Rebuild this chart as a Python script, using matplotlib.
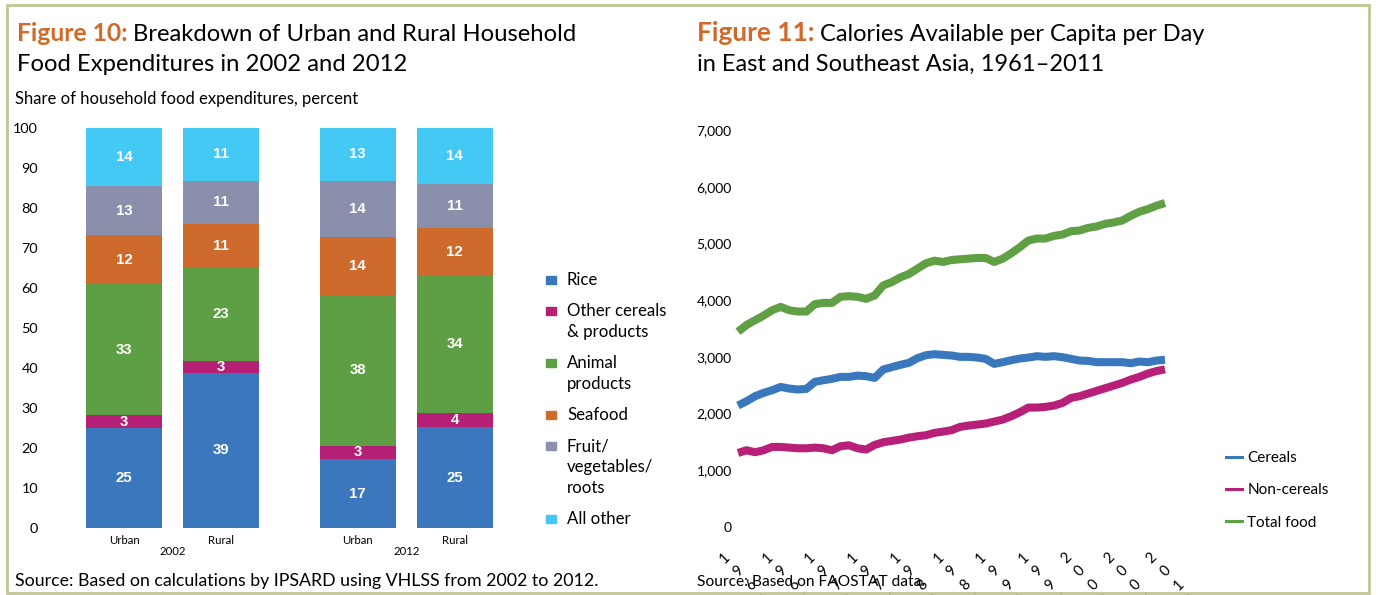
import numpy as np
import matplotlib.pyplot as plt
from matplotlib.patches import Rectangle
from matplotlib.lines import Line2D
from matplotlib.transforms import ScaledTranslation

# ---- Figure 10 data (segment shares, labels as printed)
groups = ["Urban", "Rural", "Urban", "Rural"]
years_bar = ["2002", "2012"]
categories = ["Rice", "Other cereals\n& products", "Animal\nproducts",
              "Seafood", "Fruit/\nvegetables/\nroots", "All other"]
rice = [25.0, 38.75, 17.25, 25.25]
other_cereals = [3.2, 3.0, 3.3, 3.5]
animal = [32.8, 23.5, 37.7, 34.3]
seafood = [12.2, 10.75, 14.5, 12.0]
fruit_veg = [12.3, 10.75, 14.0, 10.9]
all_other = [14.5, 13.25, 13.25, 14.05]
rice_lbl = [25, 39, 17, 25]
other_cereals_lbl = [3, 3, 3, 4]
animal_lbl = [33, 23, 38, 34]
seafood_lbl = [12, 11, 14, 12]
fruit_veg_lbl = [13, 11, 14, 11]
all_other_lbl = [14, 11, 13, 14]

# ---- Figure 11 data (kcal per capita per day)
years = np.arange(1961, 2012)
cereals = [2141, 2218, 2306, 2365, 2412, 2470, 2441, 2424, 2435, 2559,
           2588, 2612, 2647, 2647, 2670, 2659, 2629, 2776, 2818, 2859,
           2894, 2976, 3029, 3047, 3035, 3024, 3000, 3000, 2988, 2965,
           2876, 2906, 2941, 2971, 2988, 3012, 3000, 3012, 2994, 2965,
           2935, 2929, 2906, 2906, 2906, 2906, 2888, 2918, 2906, 2935, 2947]
non_cereals = [1306, 1353, 1318, 1353, 1412, 1412, 1400, 1388, 1388, 1400,
               1388, 1353, 1424, 1441, 1388, 1365, 1447, 1494, 1518, 1541,
               1576, 1600, 1618, 1659, 1682, 1706, 1765, 1788, 1806, 1824,
               1859, 1894, 1953, 2024, 2106, 2106, 2118, 2141, 2188, 2276,
               2306, 2353, 2400, 2447, 2494, 2541, 2600, 2647, 2706, 2750, 2780]
total_food = [3444, 3562, 3645, 3728, 3822, 3881, 3822, 3799, 3799, 3929,
              3952, 3952, 4059, 4070, 4059, 4023, 4082, 4259, 4318, 4401,
              4460, 4555, 4649, 4696, 4673, 4708, 4720, 4732, 4744, 4744,
              4673, 4732, 4826, 4933, 5051, 5086, 5086, 5133, 5157, 5216,
              5228, 5275, 5299, 5346, 5370, 5405, 5488, 5559, 5606, 5665, 5712]

BAR_COLORS = ["#3a77bc", "#b51f76", "#5e9f45", "#cd6a2c", "#8a90ab", "#44c8f4"]
LINE_COLORS = ["#3a78be", "#b81f78", "#5ea043"]
ORANGE = "#d0692a"
W, H = 1378, 595

plt.rcParams["font.family"] = ["Lato", "DejaVu Sans"]
fig = plt.figure(figsize=(W / 100, H / 100), dpi=100)


def fx(px):
    return px / W


def fy(py):
    return 1 - py / H


# outer border
fig.patches.append(Rectangle((fx(7), fy(593)), fx(1369) - fx(7), fy(5) - fy(593),
                             transform=fig.transFigure, fill=False,
                             ec="#c2c495", lw=2))

renderer = fig.canvas.get_renderer()


def title(x, y, bold, rest, bsize, rsize):
    t = fig.text(fx(x), fy(y), bold, color=ORANGE, fontweight="bold",
                 fontsize=bsize, va="baseline")
    bb = t.get_window_extent(renderer)
    fig.text(bb.x1 / W + fx(5), fy(y), rest, fontsize=rsize, va="baseline")


title(17, 41, "Figure 10:", "Breakdown of Urban and Rural Household", 17.8, 17.2)
fig.text(fx(17), fy(71), "Food Expenditures in 2002 and 2012", fontsize=17.2, va="baseline")
title(697, 41, "Figure 11:", "Calories Available per Capita per Day", 18.8, 17.0)
fig.text(fx(697), fy(71), "in East and Southeast Asia, 1961\u20132011", fontsize=17.0, va="baseline")

fig.text(fx(15), fy(104), "Share of household food expenditures, percent",
         fontsize=12, va="baseline")
fig.text(fx(15), fy(586), "Source: Based on calculations by IPSARD using VHLSS from 2002 to 2012.",
         fontsize=12.8, va="baseline")
fig.text(fx(697), fy(586), "Source: Based on FAOSTAT data.", fontsize=11.2, va="baseline")

# ---------------- left: stacked bars
ax1 = fig.add_axes([fx(45), fy(528), fx(520) - fx(45), fy(128) - fy(528)])
unit = 98.0
ax1.set_xlim(-(124 - 45) / unit, (520 - 124) / unit)
ax1.set_ylim(0, 100)

xpos = np.array([g * 2.385 + i * 0.99 for g in range(2) for i in range(2)])
series = [rice, other_cereals, animal, seafood, fruit_veg, all_other]
labels = [rice_lbl, other_cereals_lbl, animal_lbl, seafood_lbl, fruit_veg_lbl, all_other_lbl]
bottom = np.zeros(4)
for vals, lbls, col in zip(series, labels, BAR_COLORS):
    vals = np.array(vals)
    ax1.bar(xpos, vals, width=0.776, bottom=bottom, color=col)
    for x, b, v, l in zip(xpos, bottom, vals, lbls):
        ax1.text(x, b + v / 2, str(l), ha="center", va="center", color="white",
                 fontweight="bold", fontsize=10.8, family="Liberation Sans")
    bottom += vals

ax1.set_yticks(range(0, 101, 10))
ax1.tick_params(axis="y", length=0, pad=5, labelsize=10.4)
ax1.set_xticks([])
for s in ax1.spines.values():
    s.set_visible(False)
for x, g in zip(xpos, groups):
    ax1.text(x, -3, g, ha="center", va="center", fontsize=8.2, clip_on=False)
for k, yr in enumerate(years_bar):
    ax1.text(xpos[2 * k:2 * k + 2].mean(), -5.8, yr, ha="center", va="center",
             fontsize=8.2, clip_on=False)

# manual legend for left chart (swatch sits on the first line)
line_h, gap = 21, 10
yc = 280
for cat, col in zip(categories, BAR_COLORS):
    fig.patches.append(Rectangle((fx(546), fy(yc + 4)), fx(10), 8 / H,
                                 transform=fig.transFigure, color=col))
    for line in cat.split("\n"):
        fig.text(fx(567), fy(yc + 5), line, fontsize=12.1, va="baseline")
        yc += line_h
    yc += gap

# ---------------- right: lines
px_per_yr = (1165 - 738) / 50
ax2 = fig.add_axes([fx(736), fy(527), fx(1190) - fx(736), fy(130) - fy(527)])
ax2.set_xlim(1961 - 2 / px_per_yr, 1961 + (1190 - 738) / px_per_yr)
ax2.set_ylim(0, 7000)
for vals, col in zip([cereals, non_cereals, total_food], LINE_COLORS):
    ax2.plot(years, vals, color=col, lw=5.8, clip_on=False, solid_capstyle="butt")
ax2.set_yticks(range(0, 7001, 1000))
ax2.set_yticklabels([f"{v:,}" for v in range(0, 7001, 1000)])
ax2.tick_params(axis="y", length=0, pad=3, labelsize=10)
ax2.set_xticks([])
for s in ax2.spines.values():
    s.set_visible(False)

off = ScaledTranslation(-21 / 100, -29 / 100, fig.dpi_scale_trans)
for yr in range(1961, 2012, 5):
    ax2.text(yr, 0, "\n".join(str(yr)), transform=ax2.get_xaxis_transform() + off,
             rotation=45, rotation_mode="anchor", ha="left", va="top",
             fontsize=10.5, linespacing=1.45, clip_on=False)

handles = [Line2D([], [], color=c, lw=2.2) for c in LINE_COLORS]
ax2.legend(handles, ["Cereals", "Non-cereals", "Total food"], loc="upper left",
           bbox_to_anchor=(fx(1226), fy(451)), bbox_transform=fig.transFigure,
           frameon=False, fontsize=11, handlelength=1.05, handletextpad=0.35,
           labelspacing=1.2, borderaxespad=0, borderpad=0)

fig.savefig("out.png", dpi=100)
